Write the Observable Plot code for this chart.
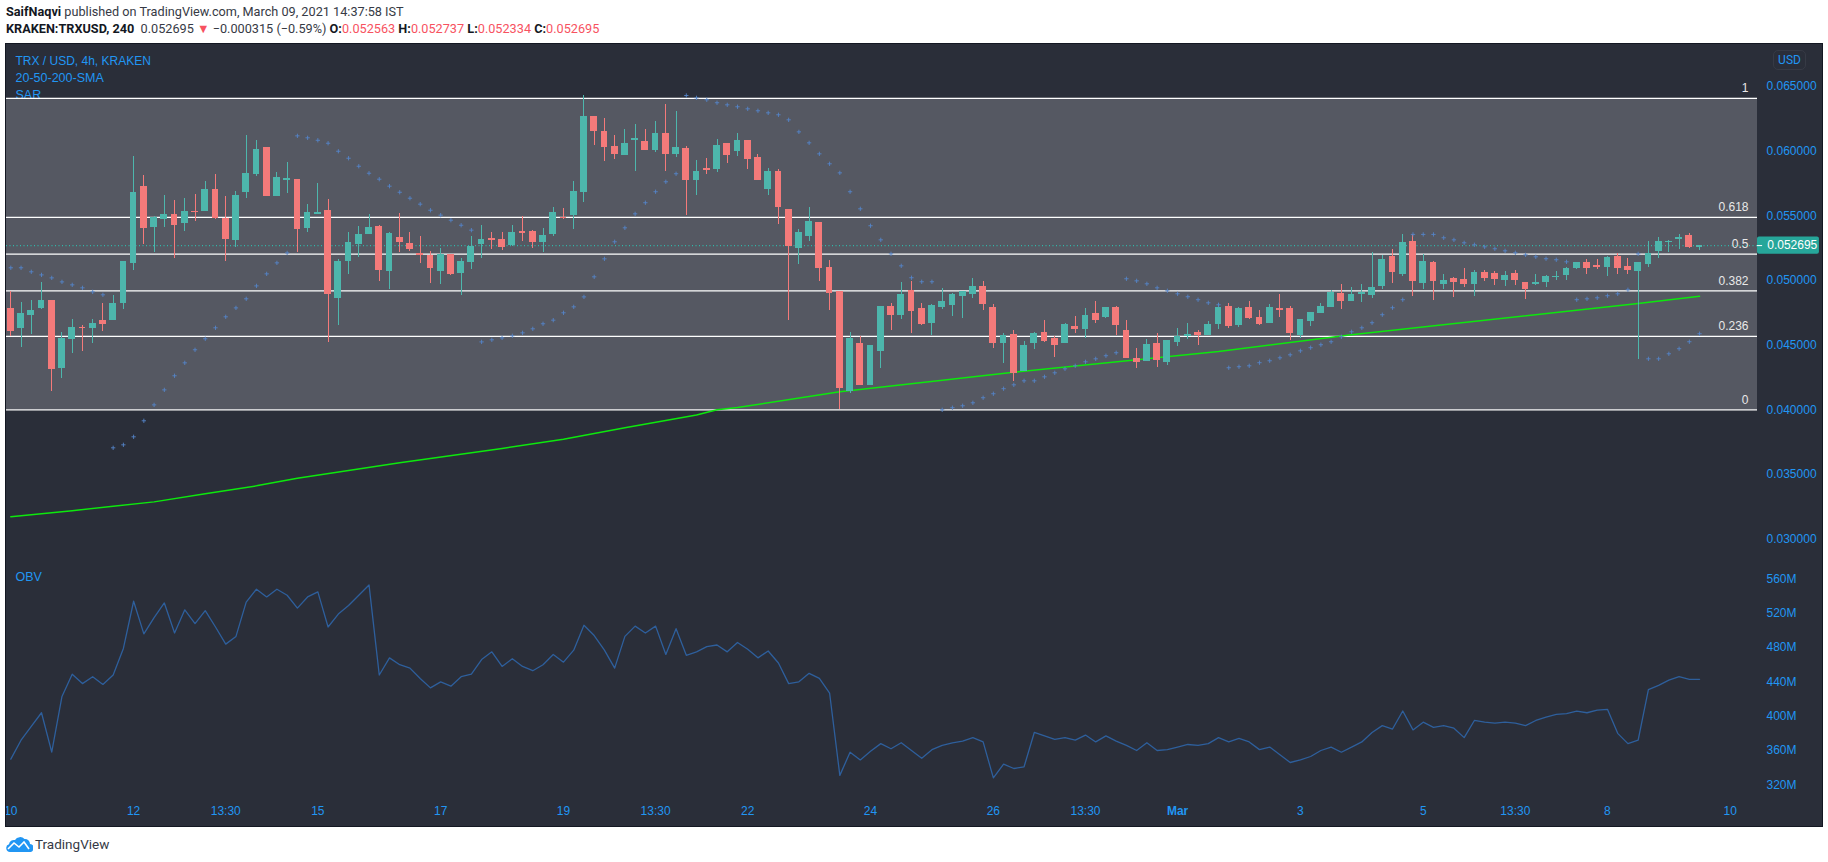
<!DOCTYPE html>
<html><head><meta charset="utf-8">
<script src="https://cdn.jsdelivr.net/npm/d3@7"></script>
<script src="https://cdn.jsdelivr.net/npm/@observablehq/plot@0.6"></script>
<style>
html,body{margin:0;padding:0;background:#fff;width:1828px;height:862px;overflow:hidden;font-family:Roboto,"Liberation Sans",Arial,sans-serif}
#h1,#h2{position:absolute;left:6px;font-size:12.7px;white-space:nowrap;color:#363a45;line-height:16px}
#h1{top:4px}#h2{top:21px}
#h2 .r{color:#f7525f}
b{font-weight:700;color:#131722}
#chart{position:absolute;left:5px;top:43px;width:1816px;height:782px;border:1px solid #131722;background:#2a2e39;overflow:hidden}
#chart svg{display:block;margin-left:-6px;background:transparent;max-width:none!important}
#usd{position:absolute;left:1767px;top:6px;width:31px;height:18px;border:1px solid #363a45;border-radius:5px;color:#2196f3;font-size:12px;line-height:18px;text-align:center}
#foot{position:absolute;left:6px;top:835px;display:flex;align-items:center;font-size:13.5px;color:#363a45}
#foot span{margin-left:2px}
</style></head><body>
<div id="h1"><b>SaifNaqvi</b> published on TradingView.com, March 09, 2021 14:37:58 IST</div>
<div id="h2"><b>KRAKEN:TRXUSD, 240</b>&nbsp; 0.052695 <span class="r">▼</span> −0.000315 (−0.59%) <b>O:</b><span class="r">0.052563</span> <b>H:</b><span class="r">0.052737</span> <b>L:</b><span class="r">0.052334</span> <b>C:</b><span class="r">0.052695</span></div>
<div id="chart"></div>
<div id="foot"><svg width="27" height="17" viewBox="0 0 27 17"><path fill="#2196f3" d="M4 17a4 4 0 0 1-1-7.8A5 5 0 0 1 9 5a6 6 0 0 1 9.5-1A5 5 0 0 1 24 9a4 4 0 0 1-1 8z"/><path fill="none" stroke="#fff" stroke-width="1.6" d="M2 14l6-6 5 4 5-5 5 7"/></svg><span>TradingView</span></div>
<script>
// Prices in units of 0.00001 USD, one entry per 4h bar
const PRICE_UNIT = 1e-5;
const open = [4783,4628,4729,4783,4845,4319,4543,4636,4628,4690,
4690,4822,5131,5726,5409,5471,5510,5440,5533,5533,
5703,5479,5309,5680,5819,6028,5649,5773,5780,5402,
5510,5541,4860,5146,5278,5355,5417,5069,5332,5286,
5208,5193,5069,5201,5054,5139,5278,5324,5317,5270,
5378,5378,5293,5355,5487,5502,5680,6267,6152,6036,
5966,6082,6075,6005,6137,5974,6021,5773,5866,5858,
6059,5997,6082,5951,5704,5843,5549,5247,5340,5448,
5101,4915,4142,4513,4188,4451,4799,4729,4923,4784,
4668,4791,4807,4876,4892,4954,4791,4513,4583,4297,
4513,4598,4552,4513,4644,4621,4745,4714,4791,4613,
4397,4374,4513,4366,4521,4567,4598,4575,4660,4799,
4652,4791,4714,4668,4784,4784,4575,4683,4745,4791,
4900,4838,4892,4884,4954,5186,5046,5302,4977,5139,
4969,5015,5008,4969,5062,5054,5000,5054,4985,4969,
4985,5023,5039,5093,5139,5116,5101,5186,5108,5070,
5124,5224,5296,5317,5348,5256];
const high = [4915,4830,4845,4984,4845,4598,4698,4652,4698,4822,
4884,5146,5958,5811,5494,5657,5618,5634,5664,5765,
5819,5649,5688,6121,6082,6028,5835,5912,5780,5587,
5749,5626,5162,5371,5417,5510,5425,5371,5518,5371,
5340,5224,5247,5201,5170,5340,5425,5371,5371,5425,
5494,5386,5402,5564,5556,5765,6430,6267,6252,6121,
6167,6206,6167,6229,6361,6307,6036,5928,5943,6090,
6059,6137,6082,5974,5866,5858,5549,5394,5564,5448,
5155,4915,4598,4567,4498,4799,4822,4985,4992,4822,
4815,4938,4900,4915,5016,4992,4815,4590,4613,4528,
4598,4691,4567,4668,4722,4784,4838,4791,4799,4691,
4474,4544,4590,4536,4629,4668,4613,4683,4822,4822,
4791,4838,4768,4815,4892,4799,4699,4753,4822,4923,
4969,4946,4969,5214,5193,5240,5356,5356,5201,5147,
5046,5023,5093,5077,5077,5070,5070,5077,4985,5046,
5039,5070,5101,5139,5162,5162,5186,5209,5170,5139,
5302,5332,5309,5356,5363,5274];
const low = [4564,4482,4582,4775,4141,4242,4435,4451,4513,4605,
4690,4775,5077,5278,5213,5409,5170,5378,5456,5533,
5471,5146,5255,5634,5804,5649,5649,5672,5213,5371,
5510,4520,4652,5046,5177,5355,4992,4930,5213,5224,
5131,4976,4969,5038,4884,5085,5170,5239,5231,5262,
5301,5247,5213,5340,5471,5394,5603,6043,5920,5935,
5966,5843,6005,5990,5843,5951,5503,5657,5820,5835,
5905,5959,5858,5773,5657,5433,4691,5124,5302,4992,
4768,4003,4126,4188,4188,4320,4613,4699,4590,4652,
4575,4776,4722,4706,4861,4768,4474,4358,4219,4297,
4467,4521,4405,4513,4590,4552,4668,4706,4575,4397,
4320,4374,4327,4343,4490,4544,4498,4575,4621,4629,
4637,4699,4652,4668,4714,4536,4552,4644,4745,4791,
4776,4838,4830,4861,4930,4977,5031,4876,4930,4845,
4930,4869,4946,4876,4992,4961,4954,4961,4853,4961,
4946,5000,5000,5085,5046,5085,5031,5046,5046,4389,
5101,5170,5217,5240,5247,5233];
const close = [4605,4744,4768,4845,4312,4551,4636,4628,4667,4659,
4822,5146,5680,5402,5487,5510,5425,5533,5525,5703,
5479,5317,5657,5827,6012,5649,5796,5788,5394,5525,
5525,4891,5146,5293,5355,5409,5077,5363,5293,5239,
5193,5092,5201,5046,5146,5262,5317,5309,5255,5371,
5363,5293,5347,5525,5479,5688,6267,6152,6028,5974,
6059,6098,6005,6137,5974,6028,5773,5843,5850,6044,
5966,6082,5936,5773,5843,5564,5263,5371,5456,5093,
4900,4165,4552,4188,4498,4799,4729,4892,4760,4660,
4807,4838,4892,4915,4954,4815,4513,4575,4281,4498,
4590,4528,4498,4660,4621,4729,4691,4791,4652,4397,
4366,4505,4382,4536,4567,4583,4575,4660,4791,4644,
4784,4706,4660,4791,4768,4590,4699,4753,4799,4907,
4838,4892,4907,4946,5162,5062,5294,4992,5147,4992,
5000,4985,4969,5062,5015,5008,5039,5000,4930,4985,
5031,5031,5093,5139,5093,5101,5178,5093,5077,5139,
5209,5302,5304,5332,5255,5270];
const sar = [5098,5098,5067,5043,5020,4989,4966,4943,4912,4889,
3706,3729,3791,3915,4038,4154,4263,4363,4464,4549,
4634,4719,4788,4858,4958,5051,5136,5213,6118,6103,
6084,6061,5999,5945,5883,5829,5783,5729,5682,5636,
5590,5543,5505,5466,5427,5389,4525,4541,4556,4572,
4595,4626,4665,4693,4750,4796,4873,5028,5167,5299,
5407,5515,5601,5686,5763,5825,6430,6412,6397,6374,
6358,6343,6327,6312,6296,6281,6242,6149,6064,5979,
5902,5832,5686,5554,5423,5314,5206,5113,5021,4990,
4990,4000,4016,4031,4054,4093,4124,4163,4193,4224,
4224,4255,4286,4317,4340,4371,4394,4418,4441,5013,
4997,4974,4943,4920,4897,4874,4851,4827,4812,4325,
4333,4340,4364,4379,4402,4425,4456,4480,4503,4526,
4565,4603,4634,4673,4735,4789,4851,5356,5356,5356,
5330,5314,5291,5276,5260,5245,5229,5214,5198,5183,
5168,5160,5144,4851,4858,4866,4882,4897,4928,5206,
4394,4394,4433,4472,4526,4588];
// OBV in millions, one entry per bar
const obv = [350,372,388,404,358,423,449,438,446,437,
448,479,534,496,515,532,497,524,508,523,
504,484,493,533,548,539,548,541,526,539,
545,504,519,529,541,553,448,468,460,456,
444,433,440,435,446,449,466,475,458,467,
458,453,460,472,463,477,506,494,477,456,
493,505,497,505,472,502,471,475,481,483,
475,486,478,468,476,462,438,440,450,444,
427,331,358,349,359,368,362,369,360,351,
361,366,369,371,375,370,328,344,339,341,
381,377,373,375,372,378,370,377,371,366,
360,369,360,361,364,367,366,368,375,370,
374,370,361,364,355,346,349,353,360,364,
358,364,370,381,389,385,406,384,393,387,
389,386,375,395,393,392,393,392,389,395,
399,402,403,406,404,407,408,380,368,372,
431,436,442,446,443,443];
// 200-SMA read at these bars
const smaBars = [0,6,10,14,19,24,28,38,48,54,60,67,69,71,81,98,118,131,159,165];
const smaVals = [3173,3220,3255,3288,3351,3412,3470,3590,3701,3772,3862,3960,4000,4018,4139,4291,4451,4581,4822,4878];
// Fibonacci retracement
const fibLow = 0.04, fibHigh = 0.06408;
const fibRatios = [1,0.618,0.5,0.382,0.236,0];
const fibLabels = ["1","0.618","0.5","0.382","0.236","0"];
// Axes
const priceTicks = [0.03,0.035,0.04,0.045,0.05,0.055,0.06,0.065];
const obvTicks = [320,360,400,440,480,520,560];
const timeTickBars = [0,12,21,30,42,54,63,72,84,96,105,126,138,147,156,168];
const timeTickLabels = ["10","12","13:30","15","17","19","13:30","22","24","26","13:30","3","5","13:30","8","10"];
const monthTickBars = [114], monthTickLabels = ["Mar"];
const lastPrice = 0.052695;

const UP="#4db6ac", DOWN="#f47a7a", BLUE="#2196f3";
const bars = open.map((o,i)=>({i,open:o*PRICE_UNIT,high:high[i]*PRICE_UNIT,low:low[i]*PRICE_UNIT,close:close[i]*PRICE_UNIT,sar:sar[i]*PRICE_UNIT,obv:obv[i],color:close[i]>=o?UP:DOWN}));
const sma = smaBars.map((b,k)=>({i:b,v:smaVals[k]*PRICE_UNIT}));
const fib = fibRatios.map((r,k)=>({p:fibLow+r*(fibHigh-fibLow),label:fibLabels[k]}));
const barEnd = 170.66;
const base = {width:1828,marginLeft:6,marginRight:71,x:{domain:[-0.42,barEnd],axis:null},style:{background:"transparent",fontFamily:'"Liberation Sans",Arial,sans-serif',fontSize:"12px",color:BLUE}};
const halfBody = 0.33;

const price = Plot.plot({...base,height:516,marginTop:0,marginBottom:0,
  y:{domain:[0.028347,0.068245]},
  marks:[
    Plot.rectY([0],{y1:fibLow,y2:fibHigh,fill:"#555862"}),
    Plot.text(["TRX / USD, 4h, KRAKEN"],{frameAnchor:"top-left",dx:9,dy:12,fill:BLUE,fontSize:12}),
    Plot.text(["20-50-200-SMA"],{frameAnchor:"top-left",dx:9,dy:29,fill:BLUE,fontSize:12.5}),
    Plot.text(["SAR"],{frameAnchor:"top-left",dx:9,dy:46,fill:BLUE,fontSize:12.5}),
    Plot.ruleY(fib,{y:"p",stroke:"#fff",strokeWidth:1.3}),
    Plot.ruleY([lastPrice],{stroke:"#2fb8aa",strokeDasharray:"1,2.5",strokeWidth:1.2}),
    Plot.text(fib,{y:"p",text:"label",frameAnchor:"right",dx:-9,dy:-10,textAnchor:"end",fill:"#e8e8e8",fontSize:12}),
    Plot.line(sma,{x:"i",y:"v",stroke:"#0de80d",strokeWidth:1.5}),
    Plot.ruleX(bars,{x:"i",y1:"low",y2:"high",stroke:"color",strokeWidth:1,shapeRendering:"crispEdges"}),
    Plot.rect(bars,{x1:d=>d.i-halfBody,x2:d=>d.i+halfBody,y1:"open",y2:"close",fill:"color",shapeRendering:"crispEdges"}),
    Plot.dot(bars,{x:"i",y:"sar",symbol:"plus",r:1.5,stroke:"#5585c8",strokeWidth:0.9}),
    Plot.axisY({anchor:"right",ticks:priceTicks,tickFormat:d=>d.toFixed(6),tickSize:0,tickPadding:9,label:null,fill:BLUE}),
    Plot.rect([lastPrice],{x1:barEnd,x2:barEnd+6.05,y1:d=>d-0.00066,y2:d=>d+0.00066,fill:"#26a69a",rx:2}),
    Plot.ruleY([lastPrice],{x1:barEnd,x2:barEnd+0.5,stroke:"#fff"}),
    Plot.text([lastPrice],{y:d=>d,x:barEnd+0.95,text:d=>d.toFixed(6),textAnchor:"start",fill:"#fff",fontSize:12})
  ]});

const obvPanel = Plot.plot({...base,height:266,marginTop:0,marginBottom:26,
  y:{domain:[301.7,581.5]},
  marks:[
    Plot.text(["OBV"],{frameAnchor:"top-left",dx:9,dy:12,fill:BLUE,fontSize:12.5}),
    Plot.line(bars,{x:"i",y:"obv",stroke:"#2e5f9c",strokeWidth:1.3}),
    Plot.axisY({anchor:"right",ticks:obvTicks,tickFormat:d=>d+"M",tickSize:0,tickPadding:9,label:null,fill:BLUE}),
    Plot.axisX({ticks:timeTickBars,tickFormat:d=>timeTickLabels[timeTickBars.indexOf(d)],tickSize:0,tickPadding:6,label:null,fill:BLUE}),
    Plot.axisX({ticks:monthTickBars,tickFormat:d=>monthTickLabels[monthTickBars.indexOf(d)],tickSize:0,tickPadding:6,label:null,fill:BLUE,fontWeight:"bold"})
  ]});

const chart = document.getElementById("chart");
chart.append(price,obvPanel);
const usd=document.createElement("div");usd.id="usd";usd.textContent="USD";chart.append(usd);
</script>
</body></html>
